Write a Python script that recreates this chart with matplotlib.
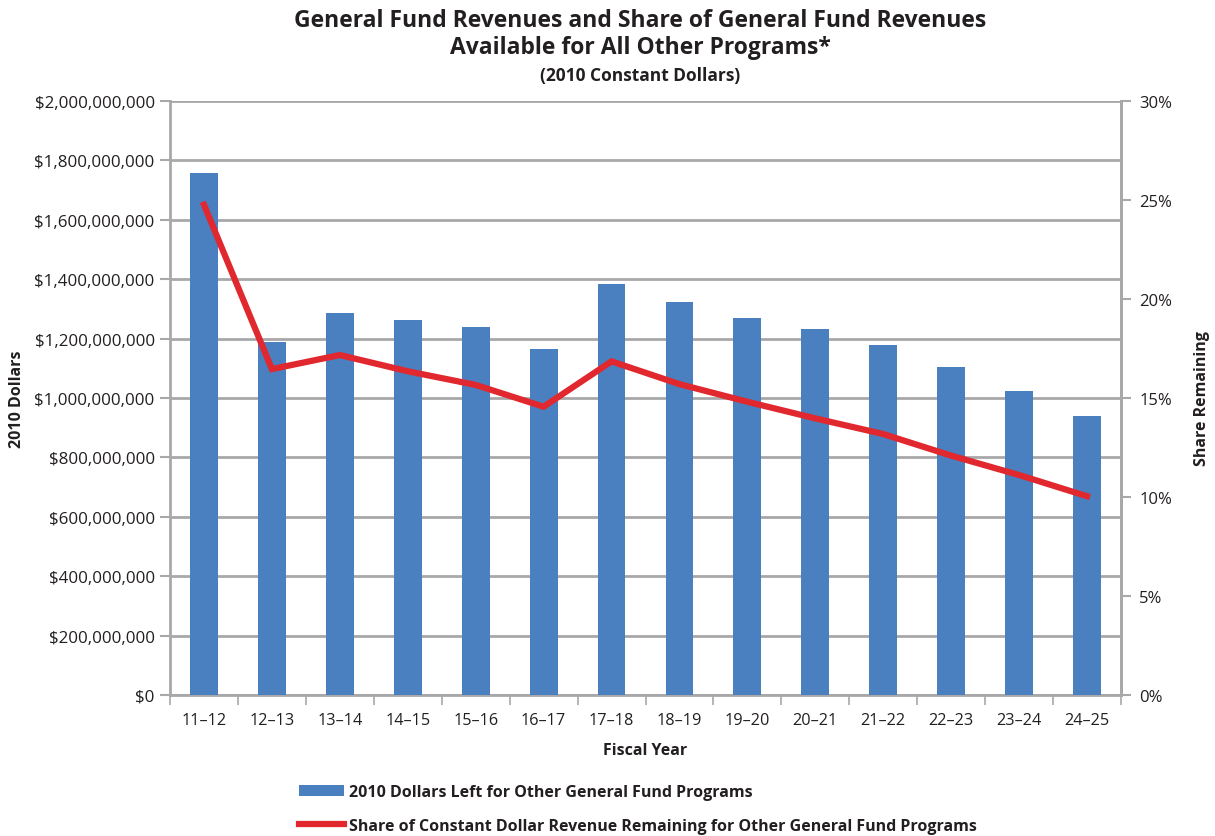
import matplotlib
matplotlib.use("Agg")
import matplotlib.pyplot as plt
from matplotlib.ticker import FuncFormatter, MultipleLocator
from matplotlib.patches import Patch
from matplotlib.lines import Line2D
import numpy as np

years = ["11\u201312", "12\u201313", "13\u201314", "14\u201315", "15\u201316", "16\u201317", "17\u201318",
         "18\u201319", "19\u201320", "20\u201321", "21\u201322", "22\u201323", "23\u201324", "24\u201325"]
dollars = [1.757e9, 1.190e9, 1.285e9, 1.261e9, 1.238e9, 1.164e9, 1.383e9,
           1.322e9, 1.271e9, 1.231e9, 1.177e9, 1.106e9, 1.025e9, 0.941e9]
share = [24.76, 16.46, 17.17, 16.35, 15.66, 14.56, 16.85,
         15.70, 14.81, 13.97, 13.18, 12.09, 11.11, 10.04]

bar_label = "2010 Dollars Left for Other General Fund Programs"
line_label = "Share of Constant Dollar Revenue Remaining for Other General Fund Programs"

plt.rcParams['font.family'] = ['Open Sans', 'DejaVu Sans']
txt = "#231f20"
grid_c = "#a8a8ab"
bar_c = "#4a80bf"
line_c = "#e0282e"

fig = plt.figure(figsize=(12.15, 8.37), dpi=100)
ax = fig.add_axes([170/1215, 1-696/837, (1121-170)/1215, (696-102)/837])
x = np.arange(len(years))
ax.bar(x, dollars, width=0.41, color=bar_c, zorder=3)
ax.set_xlim(-0.5, len(years)-0.5)
ax.set_ylim(0, 2e9)
ax.yaxis.set_major_locator(MultipleLocator(2e8))
ax.yaxis.set_major_formatter(FuncFormatter(lambda v, p: "${:,.0f}".format(v)))
ax.grid(axis='y', color=grid_c, linewidth=2, zorder=0)
ax.set_xticks(x)
ax.set_xticklabels(years)
ax.set_xticks(np.arange(len(years)+1)-0.5, minor=True)
ax.tick_params(axis='x', which='major', length=0, pad=12, labelsize=11.7, labelcolor=txt)
ax.tick_params(axis='x', which='minor', length=7, width=1.2, color=grid_c, direction='out')
ax.tick_params(axis='y', length=7, width=1.5, color=grid_c, labelsize=12.2, labelcolor=txt, pad=4)
for s in ['top']:
    ax.spines[s].set_visible(False)
for s in ['left', 'right', 'bottom']:
    ax.spines[s].set_color(grid_c)
    ax.spines[s].set_linewidth(2)
ax.set_xlabel("Fiscal Year", fontsize=11.5, fontweight='bold', color=txt, labelpad=10)
ax.set_ylabel("2010 Dollars", fontsize=11.5, fontweight='bold', color=txt)

ax2 = ax.twinx()
ax2.plot(x, share, color=line_c, linewidth=4.5, zorder=4, solid_joinstyle='miter')
ax2.set_ylim(0, 30)
ax2.yaxis.set_major_locator(MultipleLocator(5))
ax2.yaxis.set_major_formatter(FuncFormatter(lambda v, p: "{:.0f}%".format(v)))
ax2.tick_params(axis='y', length=7, width=1.5, color=grid_c, labelsize=12, labelcolor=txt, pad=6)
for s in ['top', 'left', 'bottom']:
    ax2.spines[s].set_visible(False)
ax2.spines['right'].set_color(grid_c)
ax2.spines['right'].set_linewidth(2)
ax2.set_ylabel("Share Remaining", fontsize=11.5, fontweight='bold', color=txt)
ax2.yaxis.set_label_coords(1.077, 0.5)
ax.yaxis.set_label_coords(-0.152, 0.5)

fig.text(0.527, 1-21/837, "General Fund Revenues and Share of General Fund Revenues",
         ha='center', va='center', fontsize=16.5, fontweight='bold', color=txt)
fig.text(0.527, 1-48/837, "Available for All Other Programs*",
         ha='center', va='center', fontsize=16.5, fontweight='bold', color=txt)
fig.text(0.527, 1-76/837, "(2010 Constant Dollars)",
         ha='center', va='center', fontsize=12.5, fontweight='bold', color=txt)

handles = [Patch(facecolor=bar_c, edgecolor='none', label=bar_label),
           Line2D([0], [0], color=line_c, linewidth=4.5, label=line_label)]
leg = fig.legend(handles=handles, loc='upper left', bbox_to_anchor=(299/1215, 1-785/837),
                 frameon=False, fontsize=11.5, handlelength=2.8, handletextpad=0.3,
                 labelspacing=1.1, borderpad=0, borderaxespad=0)
for t in leg.get_texts():
    t.set_fontweight('bold')
    t.set_color(txt)

fig.savefig("out.png", dpi=100)
